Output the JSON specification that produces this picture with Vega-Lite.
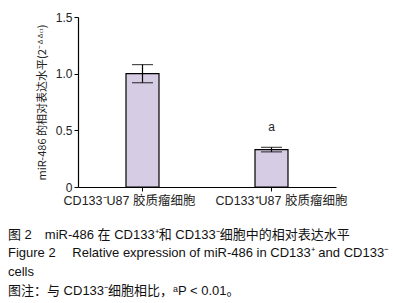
{
  "$schema": "https://vega.github.io/schema/vega-lite/v6.json",
  "autosize": {"type": "none"},
  "width": 258,
  "height": 170,
  "padding": {"left": 78, "top": 17, "right": 57, "bottom": 116},
  "background": "white",
  "config": {"view": {"stroke": null}, "font": "Liberation Sans"},
  "title": {
    "text": ["图 2\u2003miR-486 在 CD133⁺和 CD133⁻细胞中的相对表达水平", "Figure 2\u2003 Relative expression of miR-486 in CD133⁺ and CD133⁻", "cells", "图注：与 CD133⁻细胞相比，ᵃP < 0.01。"],
    "orient": "bottom",
    "anchor": "start",
    "frame": "group",
    "dx": -70,
    "offset": 22,
    "font": "Liberation Sans, Noto Sans CJK SC",
    "fontSize": 13,
    "fontWeight": "normal",
    "lineHeight": 18.7,
    "color": "#111"
  },
  "data": {"values": [
    {"group": "CD133⁻U87 胶质瘤细胞", "mean": 1.0, "lower": 0.92, "upper": 1.08, "sig": ""},
    {"group": "CD133⁺U87 胶质瘤细胞", "mean": 0.33, "lower": 0.31, "upper": 0.35, "sig": "a"}
  ]},
  "encoding": {
    "x": {"field": "group", "type": "nominal", "sort": null,
      "scale": {"paddingInner": 0, "paddingOuter": 0},
      "axis": {"title": null, "labelAngle": 0, "labelOverlap": false, "labelFont": "Liberation Sans, Noto Sans CJK SC", "labelFontSize": 12.5, "labelColor": "#222", "domainColor": "#000", "domainWidth": 1.2, "tickColor": "#000", "tickSize": 4, "labelPadding": 3,
        "labelOffset": {"condition": {"test": "datum.value == 'CD133⁻U87 胶质瘤细胞'", "value": -13}, "value": 10}}}
  },
  "layer": [
    {"mark": {"type": "bar", "size": 33, "fill": "#d6cde5", "stroke": "#000", "strokeWidth": 1.2},
     "encoding": {"y": {"field": "mean", "type": "quantitative",
       "scale": {"domain": [0, 1.5], "nice": false},
       "axis": {"values": [0, 0.5, 1.0, 1.5], "labelExpr": "datum.value == 0 ? '0' : format(datum.value, '.1f')", "grid": false,
         "title": "miR-486 的相对表达水平(2⁻ᐞᐞᶜᵗ)", "titleFont": "Noto Sans CJK SC", "titleFontSize": 11, "titleFontWeight": "normal", "titleColor": "#222", "titlePadding": 8,
         "labelFontSize": 12, "labelColor": "#222", "domainColor": "#000", "domainWidth": 1.2, "tickColor": "#000", "tickSize": 4}}}},
    {"mark": {"type": "rule", "color": "#000", "strokeWidth": 1.2},
     "encoding": {"y": {"field": "lower", "type": "quantitative"}, "y2": {"field": "upper"}}},
    {"mark": {"type": "tick", "color": "#000", "size": 21, "thickness": 1.2},
     "encoding": {"y": {"field": "lower", "type": "quantitative"}}},
    {"mark": {"type": "tick", "color": "#000", "size": 21, "thickness": 1.2},
     "encoding": {"y": {"field": "upper", "type": "quantitative"}}},
    {"mark": {"type": "text", "dy": -20, "fontSize": 12, "color": "#222"},
     "encoding": {"y": {"field": "upper", "type": "quantitative"}, "text": {"field": "sig"}}}
  ]
}
